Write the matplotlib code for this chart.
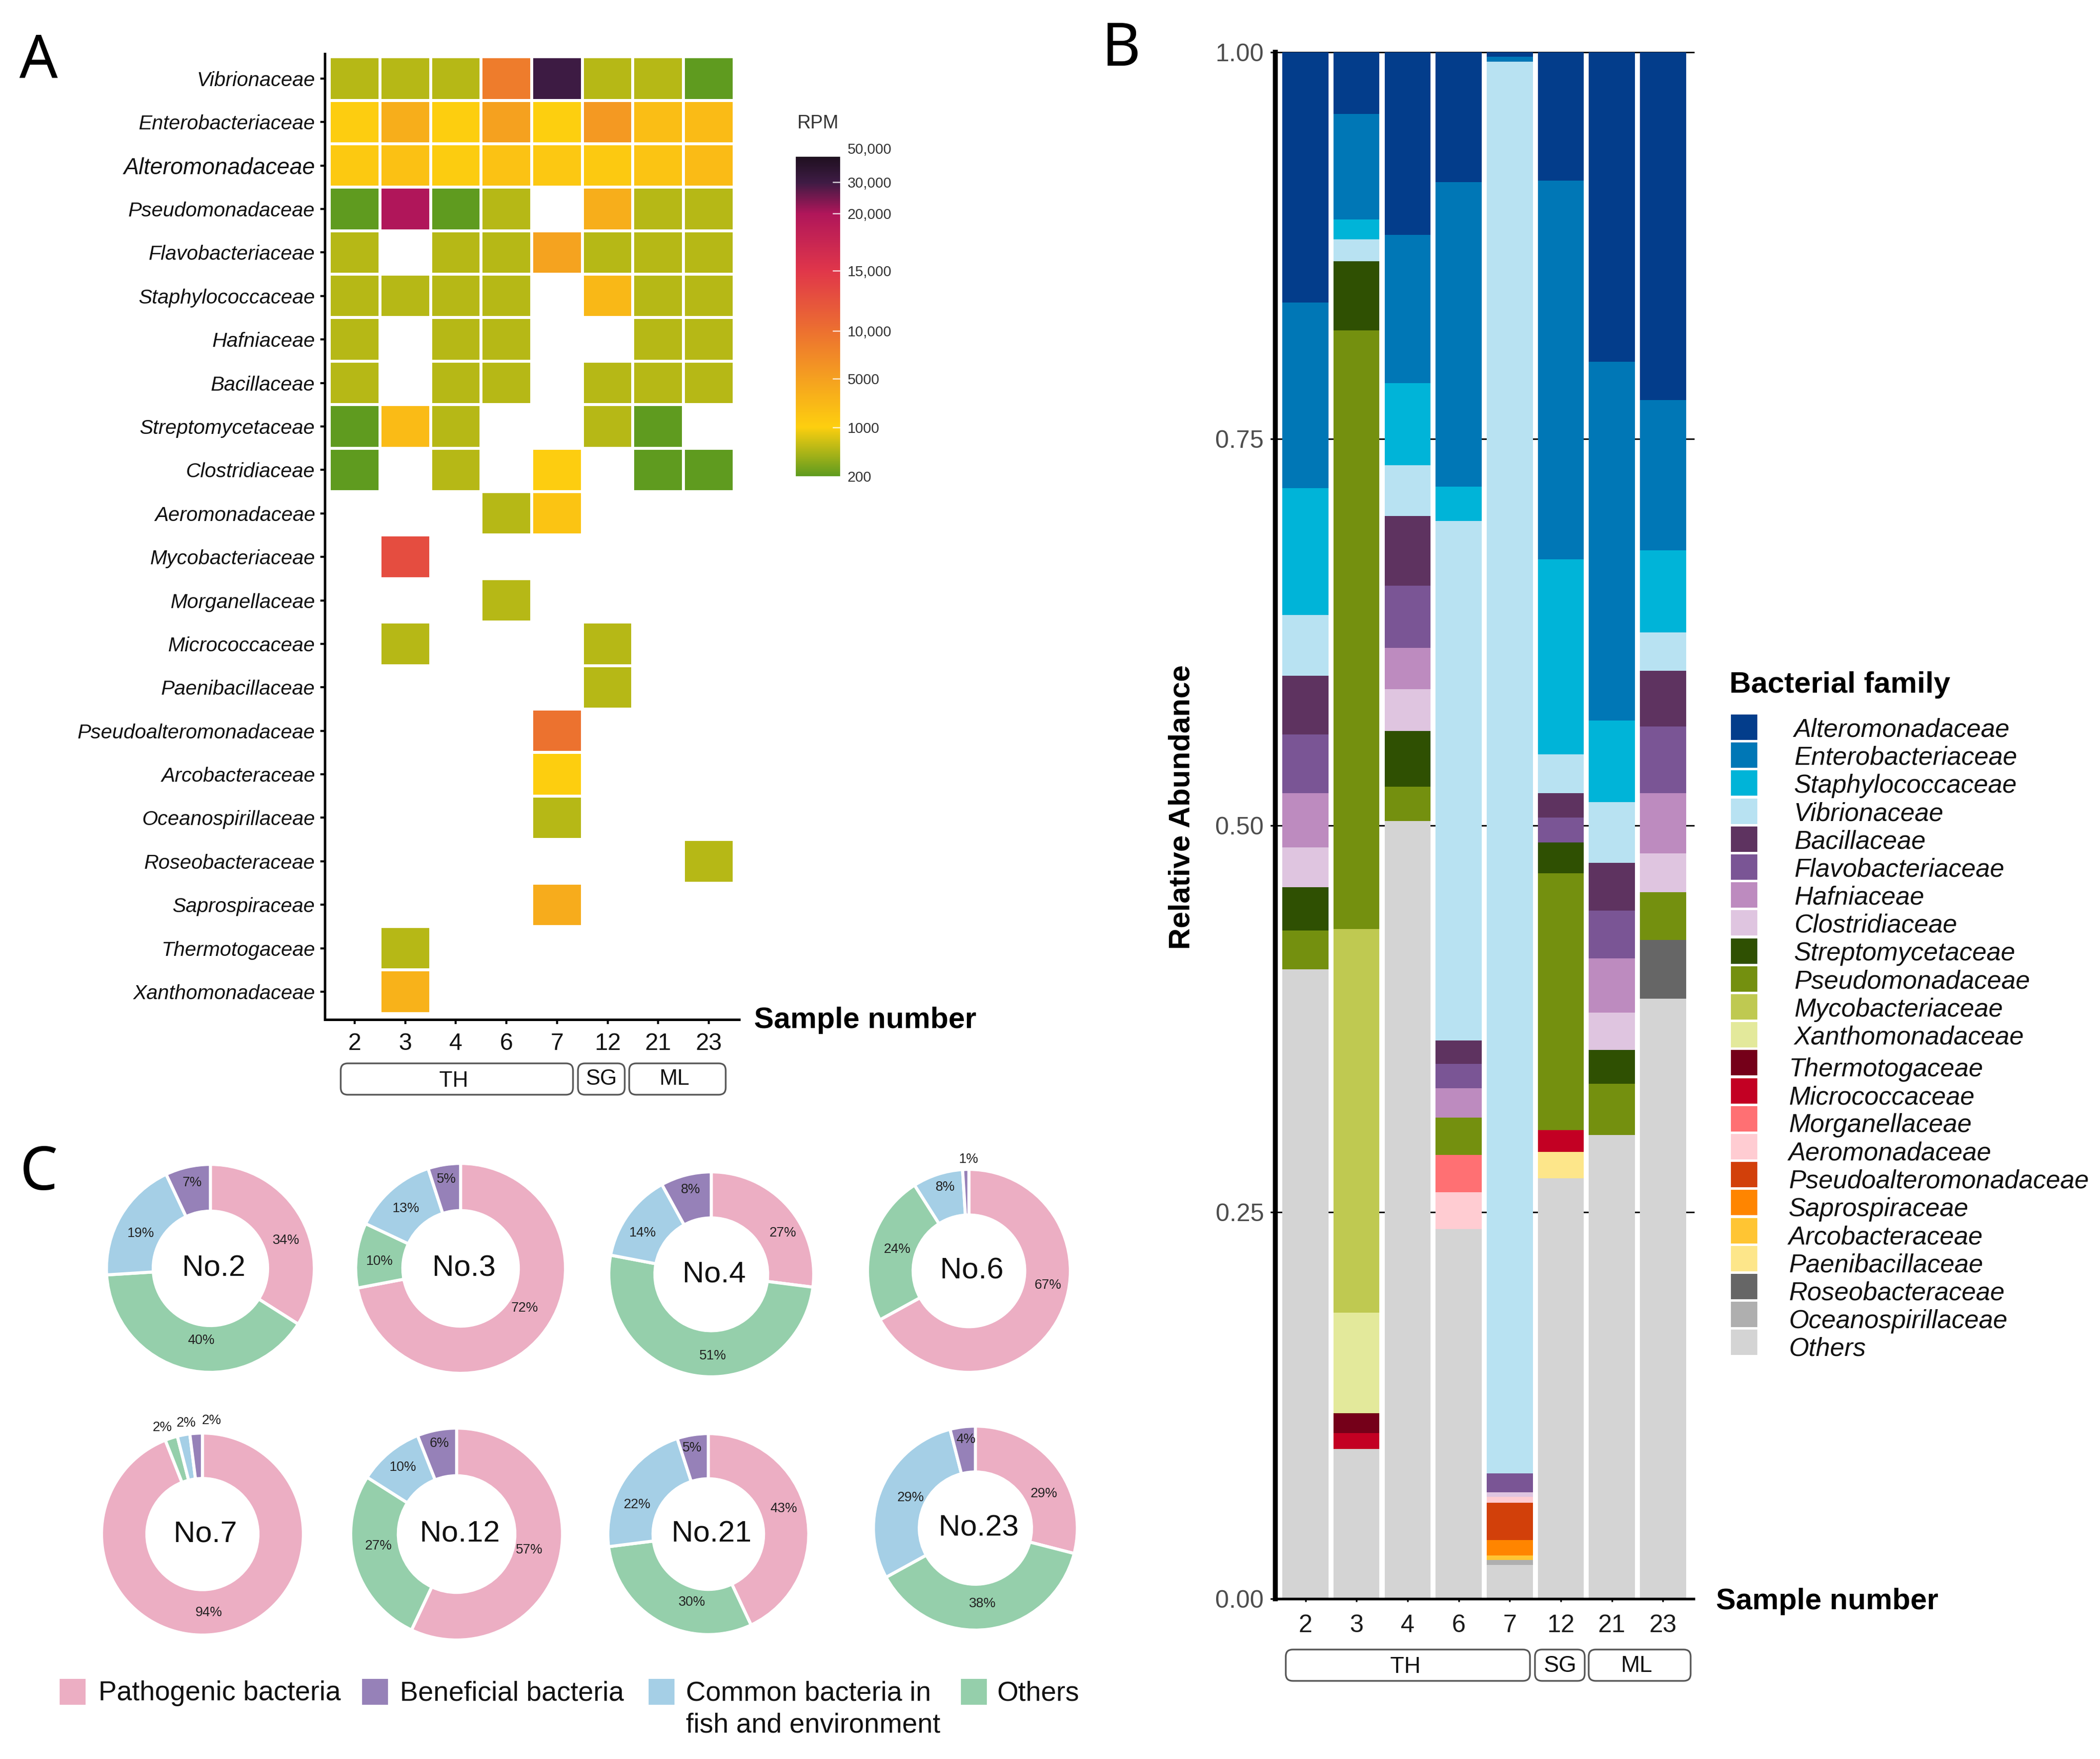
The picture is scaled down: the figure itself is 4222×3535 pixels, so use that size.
import numpy as np
import matplotlib
matplotlib.use("Agg")
import matplotlib.pyplot as plt
from matplotlib.colors import LinearSegmentedColormap, FuncNorm
from matplotlib.cm import ScalarMappable
from matplotlib.patches import FancyBboxPatch, Rectangle

plt.rcParams["font.family"] = ["Liberation Sans", "DejaVu Sans"]

W, H = 4222, 3535
DPI = 300
nan = np.nan

samples = ["2", "3", "4", "6", "7", "12", "21", "23"]

# panel A, RPM per family and sample
heat_families = [
    "Vibrionaceae", "Enterobacteriaceae", "Alteromonadaceae", "Pseudomonadaceae",
    "Flavobacteriaceae", "Staphylococcaceae", "Hafniaceae", "Bacillaceae",
    "Streptomycetaceae", "Clostridiaceae", "Aeromonadaceae", "Mycobacteriaceae",
    "Morganellaceae", "Micrococcaceae", "Paenibacillaceae", "Pseudoalteromonadaceae",
    "Arcobacteraceae", "Oceanospirillaceae", "Roseobacteraceae", "Saprospiraceae",
    "Thermotogaceae", "Xanthomonadaceae",
]
heat_values = [
    [640, 640, 640, 8800, 30000, 640, 640, 210],
    [1200, 3800, 1100, 4900, 1050, 5800, 2500, 2700],
    [1500, 2200, 1300, 2100, 1600, 1500, 2000, 2700],
    [210, 20000, 210, 640, nan, 3800, 640, 640],
    [640, nan, 640, 640, 4800, 640, 640, 640],
    [640, 640, 640, 640, nan, 3000, 640, 640],
    [640, nan, 640, 640, nan, nan, 640, 640],
    [640, nan, 640, 640, nan, 640, 640, 640],
    [210, 2700, 640, nan, nan, 640, 210, nan],
    [210, nan, 640, nan, 1200, nan, 210, 210],
    [nan, nan, nan, 640, 2000, nan, nan, nan],
    [nan, 13000, nan, nan, nan, nan, nan, nan],
    [nan, nan, nan, 640, nan, nan, nan, nan],
    [nan, 640, nan, nan, nan, 640, nan, nan],
    [nan, nan, nan, nan, nan, 640, nan, nan],
    [nan, nan, nan, nan, 9800, nan, nan, nan],
    [nan, nan, nan, nan, 1100, nan, nan, nan],
    [nan, nan, nan, nan, 640, nan, nan, nan],
    [nan, nan, nan, nan, nan, nan, nan, 640],
    [nan, nan, nan, nan, 4000, nan, nan, nan],
    [nan, 640, nan, nan, nan, nan, nan, nan],
    [nan, 3500, nan, nan, nan, nan, nan, nan],
]

rpm_ticks = [200, 1000, 5000, 10000, 15000, 20000, 30000, 50000]
rpm_labels = ["200", "1000", "5000", "10,000", "15,000", "20,000", "30,000", "50,000"]
rpm_pos = [0, 0.153, 0.306, 0.455, 0.644, 0.822, 0.92, 1]
rpm_colors = ["#5f9b1f", "#fdcf0f", "#f5a020", "#ec7030", "#e0364a", "#b0165a", "#3e1b44", "#1f1020"]

# panel B, segments listed from the top of each bar
bar_families = [
    "Alteromonadaceae", "Enterobacteriaceae", "Staphylococcaceae", "Vibrionaceae",
    "Bacillaceae", "Flavobacteriaceae", "Hafniaceae", "Clostridiaceae",
    "Streptomycetaceae", "Pseudomonadaceae", "Mycobacteriaceae", "Xanthomonadaceae",
    "Thermotogaceae", "Micrococcaceae", "Morganellaceae", "Aeromonadaceae",
    "Pseudoalteromonadaceae", "Saprospiraceae", "Arcobacteraceae", "Paenibacillaceae",
    "Roseobacteraceae", "Oceanospirillaceae", "Others",
]
bar_colors = [
    "#033d8b", "#0077b6", "#00b4d8", "#b8e2f2", "#5e3360", "#7a5595", "#bd8bbf", "#dfc5e0",
    "#2f5002", "#74900f", "#bfc951", "#e3e99b", "#750019", "#c30023", "#ff7073", "#ffccd2",
    "#d2400a", "#ff8500", "#ffc533", "#fde68a", "#666666", "#afafaf", "#d4d4d4",
]
bar_values = [
    [.162, .040, .118, .084, .003, .083, .200, .225],
    [.120, .068, .096, .197, .003, .245, .232, .097],
    [.082, .013, .053, .022, 0, .126, .053, .053],
    [.039, .014, .033, .336, .913, .025, .039, .025],
    [.038, 0, .045, .015, 0, .016, .031, .036],
    [.038, 0, .040, .016, .012, .016, .031, .043],
    [.035, 0, .027, .019, 0, 0, .035, .039],
    [.026, 0, .027, 0, .003, 0, .024, .025],
    [.028, .045, .036, 0, 0, .020, .022, 0],
    [.025, .387, .022, .024, 0, .166, .033, .031],
    [0, .248, 0, 0, 0, 0, 0, 0],
    [0, .065, 0, 0, 0, 0, 0, 0],
    [0, .013, 0, 0, 0, 0, 0, 0],
    [0, .010, 0, 0, 0, .014, 0, 0],
    [0, 0, 0, .024, 0, 0, 0, 0],
    [0, 0, 0, .024, .004, 0, 0, 0],
    [0, 0, 0, 0, .024, 0, 0, 0],
    [0, 0, 0, 0, .010, 0, 0, 0],
    [0, 0, 0, 0, .003, 0, 0, 0],
    [0, 0, 0, 0, 0, .017, 0, 0],
    [0, 0, 0, 0, 0, 0, 0, .038],
    [0, 0, 0, 0, .003, 0, 0, 0],
    [.407, .097, .503, .239, .022, .272, .300, .388],
]

# panel C
donut_names = ["No.2", "No.3", "No.4", "No.6", "No.7", "No.12", "No.21", "No.23"]
pathogenic = [34, 72, 27, 67, 94, 57, 43, 29]
others = [40, 10, 51, 24, 2, 27, 30, 38]
common = [19, 13, 14, 8, 2, 10, 22, 29]
beneficial = [7, 5, 8, 1, 2, 6, 5, 4]
donut_colors = ["#ecaec3", "#95cfab", "#a5cfe6", "#9681b8"]

# layout in picture pixels: centre x, centre y, radius
donut_layout = [
    (423, 2549, 209), (926, 2549, 211), (1430, 2561, 206), (1948, 2554, 204),
    (407, 3083, 203), (918, 3083, 213), (1424, 3083, 202), (1961, 3071, 205),
]
# where the percent labels sit, picture pixels, same order as the wedges
pct_label_px = [
    [(575, 2493), (405, 2694), (283, 2479), (386, 2377)],
    [(1055, 2629), (763, 2535), (816, 2429), (898, 2370)],
    [(1574, 2478), (1433, 2725), (1292, 2478), (1389, 2391)],
    [(2107, 2583), (1804, 2511), (1900, 2386), (1948, 2330)],
    [(420, 3241), (326, 2869), (374, 2860), (425, 2855)],
    [(1064, 3115), (761, 3107), (810, 2949), (883, 2901)],
    [(1576, 3032), (1391, 3220), (1281, 3024), (1392, 2910)],
    [(2099, 3002), (1975, 3223), (1831, 3010), (1942, 2893)],
]


def px_axes(fig, left, top, right, bottom):
    return fig.add_axes([left / W, 1 - bottom / H, (right - left) / W, (bottom - top) / H])


def group_box(ax, x0, x1, y0, y1, label, tx, ty, size):
    ax.add_patch(FancyBboxPatch((x0 + 12, y0 + 12), x1 - x0 - 24, y1 - y0 - 24,
                                boxstyle="round,pad=12,rounding_size=14",
                                fc="white", ec="#555555", lw=0.8))
    ax.text(tx, ty, label, ha="center", va="center", fontsize=size, color="#111111")


def plot_heatmap(fig):
    ax = px_axes(fig, 653, 108, 1486, 2049)
    data = np.ma.masked_invalid(np.array(heat_values, dtype=float))
    cmap = LinearSegmentedColormap.from_list("rpm", list(zip(rpm_pos, rpm_colors)), N=512)
    norm = FuncNorm((lambda v: np.interp(v, rpm_ticks, rpm_pos),
                     lambda p: np.interp(p, rpm_pos, rpm_ticks)), vmin=200, vmax=50000)
    ax.pcolormesh(np.arange(9) - 0.5, np.arange(23) - 0.5, data, cmap=cmap, norm=norm,
                  edgecolors="white", linewidth=1.4)
    ax.set_xlim(-0.59, 7.6)
    ax.set_ylim(21.64, -0.57)
    ax.set_xticks(range(8), samples, fontsize=11.5, color="#111111")
    ax.set_yticks(range(22), heat_families, fontsize=9.8, style="italic", color="#111111")
    # this one label is set larger in the figure
    ax.get_yticklabels()[2].set_fontsize(11)
    ax.tick_params(axis="y", length=2.2, width=1.0, pad=2.5)
    ax.tick_params(axis="x", length=2.2, width=1.0, pad=4)
    for side in ["top", "right"]:
        ax.spines[side].set_visible(False)
    for side in ["left", "bottom"]:
        ax.spines[side].set_linewidth(1.2)

    cax = px_axes(fig, 1600, 315, 1689, 957)
    cb = fig.colorbar(ScalarMappable(norm=norm, cmap=cmap), cax=cax)
    cb.set_ticks(rpm_ticks, labels=rpm_labels)
    cb.ax.tick_params(length=0, labelsize=7, labelcolor="#333333", pad=3.5)
    cb.ax.get_yticklabels()[-1].set_va("bottom")
    cb.outline.set_visible(False)
    for t in rpm_ticks[1:-1]:
        cax.plot([0.84, 1], [t, t], transform=cax.get_yaxis_transform(), color="white", lw=0.6, alpha=0.8)


def plot_bars(fig):
    ax = px_axes(fig, 2564, 105, 3405, 3213)
    for level in [0.25, 0.5, 0.75, 1.0]:
        ax.axhline(level, color="black", lw=0.7, zorder=1, clip_on=False)
    x = np.arange(8)
    top = np.ones(8)
    for name, color, vals in zip(bar_families, bar_colors, bar_values):
        vals = np.array(vals)
        ax.bar(x, vals, bottom=top - vals, width=0.9, color=color, label=name, zorder=2)
        top = top - vals
    ax.set_xlim(-0.59, 7.6)
    ax.set_ylim(0, 1)
    ax.set_xticks(x, samples, fontsize=12, color="#1a1a1a")
    ax.set_yticks([0, 0.25, 0.5, 0.75, 1.0], ["0.00", "0.25", "0.50", "0.75", "1.00"],
                  fontsize=12, color="#4d4d4d")
    ax.tick_params(axis="y", length=2.5, width=0.8, pad=3)
    ax.tick_params(axis="x", length=1.5, width=0.8, pad=6)
    ax.set_ylabel("Relative Abundance", fontsize=14.4, fontweight="bold", labelpad=9.5, y=0.512)
    for side in ["top", "right"]:
        ax.spines[side].set_visible(False)
    ax.spines["left"].set_linewidth(2.4)
    ax.spines["bottom"].set_linewidth(1.3)


def plot_donuts(fig):
    for i, (cx, cy, r) in enumerate(donut_layout):
        ax = px_axes(fig, cx - r, cy - r, cx + r, cy + r)
        vals = [pathogenic[i], others[i], common[i], beneficial[i]]
        wedges, _, pcts = ax.pie(
            vals, colors=donut_colors, startangle=90, counterclock=False, radius=1,
            wedgeprops={"width": 0.45, "edgecolor": "white", "linewidth": 1.5},
            autopct=lambda p: f"{p:.0f}%", pctdistance=0.78,
            textprops={"fontsize": 6.5, "color": "#222222"},
        )
        ax.set_xlim(-1, 1)
        ax.set_ylim(-1, 1)
        for w in wedges:
            w.set_clip_on(False)
        for txt, (px, py) in zip(pcts, pct_label_px[i]):
            txt.set_position(((px - cx) / r, (cy - py) / r))
        ax.text(0.03, 0.0, donut_names[i], ha="center", va="center", fontsize=14.5, color="#111111")


def plot_overlay(fig):
    ax = fig.add_axes([0, 0, 1, 1], zorder=5)
    ax.set_xlim(0, W)
    ax.set_ylim(H, 0)
    ax.axis("off")

    ax.text(78, 125, "A", fontsize=29, ha="center", va="center", family="Noto Sans")
    ax.text(2253, 100, "B", fontsize=29, ha="center", va="center", family="Noto Sans")
    ax.text(78, 2360, "C", fontsize=29, ha="center", va="center", family="Noto Sans")

    ax.text(1645, 248, "RPM", fontsize=9, ha="center", va="center", color="#333333")
    ax.text(1516, 2050, "Sample number", fontsize=14.3, fontweight="bold", va="center")
    ax.text(3450, 3218, "Sample number", fontsize=14.3, fontweight="bold", va="center")

    group_box(ax, 685, 1152, 2137, 2200, "TH", 912, 2172, 10.5)
    group_box(ax, 1162, 1256, 2137, 2200, "SG", 1209, 2169, 10.5)
    group_box(ax, 1265, 1459, 2137, 2200, "ML", 1356, 2169, 10.5)
    group_box(ax, 2585, 3076, 3315, 3378, "TH", 2826, 3350, 11)
    group_box(ax, 3086, 3186, 3315, 3378, "SG", 3137, 3348, 11)
    group_box(ax, 3194, 3399, 3315, 3378, "ML", 3290, 3348, 11)

    # family legend of panel B
    ax.text(3477, 1377, "Bacterial family", fontsize=14.4, fontweight="bold", va="center")
    for i, (name, color) in enumerate(zip(bar_families, bar_colors)):
        y = 1436 + i * 56.2
        ax.add_patch(Rectangle((3480, y), 53, 51, fc=color, ec="none"))
        tx = 3607 if i < 12 else 3596
        ty = y + 31 if i < 12 else y + 39
        ax.text(tx, ty, name, fontsize=12.4, style="italic", va="center", color="#111111")

    # category legend of panel C
    legend_items = [
        (120, 198, "Pathogenic bacteria", donut_colors[0]),
        (728, 804, "Beneficial bacteria", donut_colors[3]),
        (1304, 1379, "Common bacteria in\nfish and environment", donut_colors[2]),
        (1932, 2004, "Others", donut_colors[1]),
    ]
    for kx, tx, label, color in legend_items:
        ax.add_patch(Rectangle((kx, 3374), 52, 52, fc=color, ec="none"))
        ax.text(tx, 3377, label, fontsize=13.2, va="top", linespacing=1.32, color="#111111")


fig = plt.figure(figsize=(W / DPI, H / DPI), dpi=DPI)
plot_heatmap(fig)
plot_bars(fig)
plot_donuts(fig)
plot_overlay(fig)
fig.savefig("out.png", dpi=DPI)
